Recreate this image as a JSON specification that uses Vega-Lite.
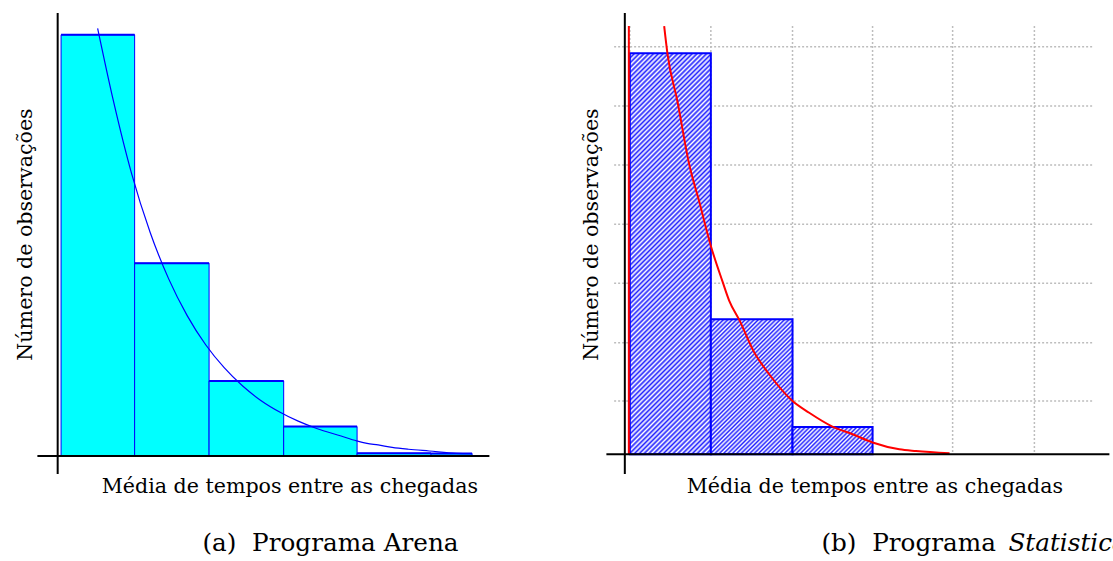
{
  "$schema": "https://vega.github.io/schema/vega-lite/v6.json",
  "background": "white",
  "padding": {"left": 15.4, "top": 12, "right": 0, "bottom": 0},
  "bounds": "flush",
  "spacing": 117,
  "config": {
    "view": {"stroke": null},
    "font": "DejaVu Serif",
    "axis": {"domain": false, "ticks": false, "labels": false, "grid": false, "titleFont": "DejaVu Serif", "titleFontSize": 20.6, "titleFontWeight": "normal", "titleColor": "black"},
    "title": {"font": "DejaVu Serif", "fontSize": 24.7, "fontWeight": "normal", "color": "black"}
  },
  "datasets": {
    "barsA": [
      {"x": 0.046, "x2": 1.04, "y": 156},
      {"x": 1.04, "x2": 2.046, "y": 71.4},
      {"x": 2.046, "x2": 3.054, "y": 27.8},
      {"x": 3.054, "x2": 4.046, "y": 10.9},
      {"x": 4.046, "x2": 5.046, "y": 1.0},
      {"x": 5.046, "x2": 5.6, "y": 0.9}
    ],
    "curveA": [
      {"x": 0.54, "y": 158.4}, {"x": 0.75, "y": 131.9}, {"x": 1.0, "y": 104.5}, {"x": 1.25, "y": 82.8},
      {"x": 1.5, "y": 65.6}, {"x": 1.75, "y": 52.0}, {"x": 2.0, "y": 41.2}, {"x": 2.25, "y": 32.7},
      {"x": 2.5, "y": 25.9}, {"x": 2.75, "y": 20.5}, {"x": 3.0, "y": 16.3}, {"x": 3.25, "y": 12.9},
      {"x": 3.5, "y": 10.2}, {"x": 3.83, "y": 7.4}, {"x": 4.04, "y": 5.6}, {"x": 4.18, "y": 4.7},
      {"x": 4.33, "y": 4.1}, {"x": 4.52, "y": 3.2}, {"x": 4.74, "y": 2.5}, {"x": 5.02, "y": 1.85},
      {"x": 5.39, "y": 1.0}, {"x": 5.6, "y": 0.9}
    ],
    "barsB": [
      {"bin": 1, "x": 0, "x2": 0.996, "y": 44.07},
      {"bin": 2, "x": 0.996, "x2": 2.0, "y": 14.84},
      {"bin": 3, "x": 2.0, "x2": 2.984, "y": 3.0}
    ],
    "gridHB": [{"y": 5.86}, {"y": 12.26}, {"y": 18.79}, {"y": 25.27}, {"y": 31.79}, {"y": 38.27}, {"y": 44.79}],
    "gridVB": [{"x": 0}, {"x": 0.996}, {"x": 2.0}, {"x": 2.984}, {"x": 3.968}, {"x": 4.973}],
    "curveB": [
      {"x": 0.422, "y": 47.07}, {"x": 0.462, "y": 44.07}, {"x": 0.585, "y": 38.8}, {"x": 0.729, "y": 31.9},
      {"x": 0.852, "y": 27.8}, {"x": 0.996, "y": 22.9}, {"x": 1.139, "y": 19.0}, {"x": 1.221, "y": 16.9},
      {"x": 1.344, "y": 14.8}, {"x": 1.529, "y": 11.2}, {"x": 1.713, "y": 8.8}, {"x": 2.0, "y": 5.86},
      {"x": 2.205, "y": 4.57}, {"x": 2.49, "y": 3.05}, {"x": 2.738, "y": 2.2}, {"x": 2.984, "y": 1.3},
      {"x": 3.313, "y": 0.55}, {"x": 3.518, "y": 0.36}, {"x": 3.93, "y": 0.11}
    ],
    "redEdgeB": [{"x": -0.012}],
    "axisXA": [{"x": 0}],
    "axisYA": [{"y": 0}],
    "axisXB": [{"x": -0.0615}],
    "axisYB": [{"y": 0}]
  },
  "title": {"text": "Statistica", "orient": "bottom", "anchor": "start", "frame": "group", "dx": 971, "offset": -25, "fontStyle": "italic"},
  "hconcat": [
    {
      "width": 452,
      "height": 461,
      "title": {"text": "(a)\u00a0 Programa Arena", "orient": "bottom", "anchor": "start", "frame": "group", "dx": 165, "offset": 34},
      "layer": [
        {
          "data": {"name": "barsA"},
          "mark": {"type": "rect", "fill": "#00ffff", "stroke": "#0000ff", "strokeWidth": 1},
          "encoding": {
            "x": {"field": "x", "type": "quantitative", "scale": {"domain": [-0.274, 5.834], "nice": false, "zero": false},
                  "axis": {"title": "Média de tempos entre as chegadas", "titlePadding": 2.5, "titleX": 252}},
            "x2": {"field": "x2"},
            "y": {"field": "y", "type": "quantitative", "scale": {"domain": [-6.67, 164.07], "nice": false, "zero": false},
                  "axis": {"title": "Número de observações", "titlePadding": 2, "titleY": 221}},
            "y2": {"datum": 0}
          }
        },
        {
          "data": {"name": "barsA"},
          "mark": {"type": "rule", "stroke": "#0000ff", "strokeWidth": 2},
          "encoding": {
            "x": {"field": "x", "type": "quantitative"},
            "x2": {"field": "x2"},
            "y": {"field": "y", "type": "quantitative"}
          }
        },
        {
          "data": {"name": "curveA"},
          "mark": {"type": "line", "stroke": "#0000ff", "strokeWidth": 1.2, "interpolate": "monotone"},
          "encoding": {
            "x": {"field": "x", "type": "quantitative"},
            "y": {"field": "y", "type": "quantitative"}
          }
        },
        {
          "data": {"name": "axisXA"},
          "mark": {"type": "rule", "stroke": "black", "strokeWidth": 2},
          "encoding": {"x": {"field": "x", "type": "quantitative"}}
        },
        {
          "data": {"name": "axisYA"},
          "mark": {"type": "rule", "stroke": "black", "strokeWidth": 2},
          "encoding": {"y": {"field": "y", "type": "quantitative"}}
        }
      ]
    },
    {
      "width": 503,
      "height": 461,
      "title": {"text": "(b)\u00a0 Programa", "orient": "bottom", "anchor": "start", "frame": "group", "dx": 215, "offset": 34},
      "layer": [
        {
          "data": {"name": "gridHB"},
          "mark": {"type": "rule", "stroke": "#bdbdbd", "strokeWidth": 1.5, "strokeDash": [2, 2]},
          "encoding": {
            "y": {"field": "y", "type": "quantitative", "scale": {"domain": [-2.165, 48.5], "nice": false, "zero": false},
                  "axis": {"title": "Número de observações", "titlePadding": 4.7, "titleY": 221}},
            "x": {"datum": -0.193, "type": "quantitative", "scale": {"domain": [-0.288, 5.895], "nice": false, "zero": false},
                  "axis": {"title": "Média de tempos entre as chegadas", "titlePadding": 2.5, "titleX": 268}},
            "x2": {"datum": 5.69}
          }
        },
        {
          "data": {"name": "gridVB"},
          "mark": {"type": "rule", "stroke": "#bdbdbd", "strokeWidth": 1.5, "strokeDash": [2, 2]},
          "encoding": {
            "x": {"field": "x", "type": "quantitative"},
            "y": {"datum": 47.07, "type": "quantitative"},
            "y2": {"datum": 0}
          }
        },
        {
          "data": {"name": "barsB"},
          "transform": [{"filter": "datum.bin == 1"}],
          "mark": {"type": "rect", "stroke": "#0000ff", "strokeWidth": 2,
            "fill": {"gradient": "linear", "x1": 0, "y1": 0, "x2": 0.2333, "y2": 1.155, "stops": [
              {"offset":0,"color":"#22f"},{"offset":0.005,"color":"#fff"},{"offset":0.01,"color":"#22f"},{"offset":0.015,"color":"#fff"},{"offset":0.02,"color":"#22f"},{"offset":0.025,"color":"#fff"},{"offset":0.03,"color":"#22f"},{"offset":0.035,"color":"#fff"},{"offset":0.04,"color":"#22f"},{"offset":0.045,"color":"#fff"},
              {"offset":0.05,"color":"#22f"},{"offset":0.055,"color":"#fff"},{"offset":0.06,"color":"#22f"},{"offset":0.065,"color":"#fff"},{"offset":0.07,"color":"#22f"},{"offset":0.075,"color":"#fff"},{"offset":0.08,"color":"#22f"},{"offset":0.085,"color":"#fff"},{"offset":0.09,"color":"#22f"},{"offset":0.095,"color":"#fff"},
              {"offset":0.1,"color":"#22f"},{"offset":0.105,"color":"#fff"},{"offset":0.11,"color":"#22f"},{"offset":0.115,"color":"#fff"},{"offset":0.12,"color":"#22f"},{"offset":0.125,"color":"#fff"},{"offset":0.13,"color":"#22f"},{"offset":0.135,"color":"#fff"},{"offset":0.14,"color":"#22f"},{"offset":0.145,"color":"#fff"},
              {"offset":0.15,"color":"#22f"},{"offset":0.155,"color":"#fff"},{"offset":0.16,"color":"#22f"},{"offset":0.165,"color":"#fff"},{"offset":0.17,"color":"#22f"},{"offset":0.175,"color":"#fff"},{"offset":0.18,"color":"#22f"},{"offset":0.185,"color":"#fff"},{"offset":0.19,"color":"#22f"},{"offset":0.195,"color":"#fff"},
              {"offset":0.2,"color":"#22f"},{"offset":0.205,"color":"#fff"},{"offset":0.21,"color":"#22f"},{"offset":0.215,"color":"#fff"},{"offset":0.22,"color":"#22f"},{"offset":0.225,"color":"#fff"},{"offset":0.23,"color":"#22f"},{"offset":0.235,"color":"#fff"},{"offset":0.24,"color":"#22f"},{"offset":0.245,"color":"#fff"},
              {"offset":0.25,"color":"#22f"},{"offset":0.255,"color":"#fff"},{"offset":0.26,"color":"#22f"},{"offset":0.265,"color":"#fff"},{"offset":0.27,"color":"#22f"},{"offset":0.275,"color":"#fff"},{"offset":0.28,"color":"#22f"},{"offset":0.285,"color":"#fff"},{"offset":0.29,"color":"#22f"},{"offset":0.295,"color":"#fff"},
              {"offset":0.3,"color":"#22f"},{"offset":0.305,"color":"#fff"},{"offset":0.31,"color":"#22f"},{"offset":0.315,"color":"#fff"},{"offset":0.32,"color":"#22f"},{"offset":0.325,"color":"#fff"},{"offset":0.33,"color":"#22f"},{"offset":0.335,"color":"#fff"},{"offset":0.34,"color":"#22f"},{"offset":0.345,"color":"#fff"},
              {"offset":0.35,"color":"#22f"},{"offset":0.355,"color":"#fff"},{"offset":0.36,"color":"#22f"},{"offset":0.365,"color":"#fff"},{"offset":0.37,"color":"#22f"},{"offset":0.375,"color":"#fff"},{"offset":0.38,"color":"#22f"},{"offset":0.385,"color":"#fff"},{"offset":0.39,"color":"#22f"},{"offset":0.395,"color":"#fff"},
              {"offset":0.4,"color":"#22f"},{"offset":0.405,"color":"#fff"},{"offset":0.41,"color":"#22f"},{"offset":0.415,"color":"#fff"},{"offset":0.42,"color":"#22f"},{"offset":0.425,"color":"#fff"},{"offset":0.43,"color":"#22f"},{"offset":0.435,"color":"#fff"},{"offset":0.44,"color":"#22f"},{"offset":0.445,"color":"#fff"},
              {"offset":0.45,"color":"#22f"},{"offset":0.455,"color":"#fff"},{"offset":0.46,"color":"#22f"},{"offset":0.465,"color":"#fff"},{"offset":0.47,"color":"#22f"},{"offset":0.475,"color":"#fff"},{"offset":0.48,"color":"#22f"},{"offset":0.485,"color":"#fff"},{"offset":0.49,"color":"#22f"},{"offset":0.495,"color":"#fff"},
              {"offset":0.5,"color":"#22f"},{"offset":0.505,"color":"#fff"},{"offset":0.51,"color":"#22f"},{"offset":0.515,"color":"#fff"},{"offset":0.52,"color":"#22f"},{"offset":0.525,"color":"#fff"},{"offset":0.53,"color":"#22f"},{"offset":0.535,"color":"#fff"},{"offset":0.54,"color":"#22f"},{"offset":0.545,"color":"#fff"},
              {"offset":0.55,"color":"#22f"},{"offset":0.555,"color":"#fff"},{"offset":0.56,"color":"#22f"},{"offset":0.565,"color":"#fff"},{"offset":0.57,"color":"#22f"},{"offset":0.575,"color":"#fff"},{"offset":0.58,"color":"#22f"},{"offset":0.585,"color":"#fff"},{"offset":0.59,"color":"#22f"},{"offset":0.595,"color":"#fff"},
              {"offset":0.6,"color":"#22f"},{"offset":0.605,"color":"#fff"},{"offset":0.61,"color":"#22f"},{"offset":0.615,"color":"#fff"},{"offset":0.62,"color":"#22f"},{"offset":0.625,"color":"#fff"},{"offset":0.63,"color":"#22f"},{"offset":0.635,"color":"#fff"},{"offset":0.64,"color":"#22f"},{"offset":0.645,"color":"#fff"},
              {"offset":0.65,"color":"#22f"},{"offset":0.655,"color":"#fff"},{"offset":0.66,"color":"#22f"},{"offset":0.665,"color":"#fff"},{"offset":0.67,"color":"#22f"},{"offset":0.675,"color":"#fff"},{"offset":0.68,"color":"#22f"},{"offset":0.685,"color":"#fff"},{"offset":0.69,"color":"#22f"},{"offset":0.695,"color":"#fff"},
              {"offset":0.7,"color":"#22f"},{"offset":0.705,"color":"#fff"},{"offset":0.71,"color":"#22f"},{"offset":0.715,"color":"#fff"},{"offset":0.72,"color":"#22f"},{"offset":0.725,"color":"#fff"},{"offset":0.73,"color":"#22f"},{"offset":0.735,"color":"#fff"},{"offset":0.74,"color":"#22f"},{"offset":0.745,"color":"#fff"},
              {"offset":0.75,"color":"#22f"},{"offset":0.755,"color":"#fff"},{"offset":0.76,"color":"#22f"},{"offset":0.765,"color":"#fff"},{"offset":0.77,"color":"#22f"},{"offset":0.775,"color":"#fff"},{"offset":0.78,"color":"#22f"},{"offset":0.785,"color":"#fff"},{"offset":0.79,"color":"#22f"},{"offset":0.795,"color":"#fff"},
              {"offset":0.8,"color":"#22f"},{"offset":0.805,"color":"#fff"},{"offset":0.81,"color":"#22f"},{"offset":0.815,"color":"#fff"},{"offset":0.82,"color":"#22f"},{"offset":0.825,"color":"#fff"},{"offset":0.83,"color":"#22f"},{"offset":0.835,"color":"#fff"},{"offset":0.84,"color":"#22f"},{"offset":0.845,"color":"#fff"},
              {"offset":0.85,"color":"#22f"},{"offset":0.855,"color":"#fff"},{"offset":0.86,"color":"#22f"},{"offset":0.865,"color":"#fff"},{"offset":0.87,"color":"#22f"},{"offset":0.875,"color":"#fff"},{"offset":0.88,"color":"#22f"},{"offset":0.885,"color":"#fff"},{"offset":0.89,"color":"#22f"},{"offset":0.895,"color":"#fff"},
              {"offset":0.9,"color":"#22f"},{"offset":0.905,"color":"#fff"},{"offset":0.91,"color":"#22f"},{"offset":0.915,"color":"#fff"},{"offset":0.92,"color":"#22f"},{"offset":0.925,"color":"#fff"},{"offset":0.93,"color":"#22f"},{"offset":0.935,"color":"#fff"},{"offset":0.94,"color":"#22f"},{"offset":0.945,"color":"#fff"},
              {"offset":0.95,"color":"#22f"},{"offset":0.955,"color":"#fff"},{"offset":0.96,"color":"#22f"},{"offset":0.965,"color":"#fff"},{"offset":0.97,"color":"#22f"},{"offset":0.975,"color":"#fff"},{"offset":0.98,"color":"#22f"},{"offset":0.985,"color":"#fff"},{"offset":0.99,"color":"#22f"},{"offset":0.995,"color":"#fff"},
              {"offset":1,"color":"#22f"}
            ]}},
          "encoding": {
            "x": {"field": "x", "type": "quantitative"},
            "x2": {"field": "x2"},
            "y": {"field": "y", "type": "quantitative"},
            "y2": {"datum": 0}
          }
        },
        {
          "data": {"name": "barsB"},
          "transform": [{"filter": "datum.bin == 2"}],
          "mark": {"type": "rect", "stroke": "#0000ff", "strokeWidth": 2,
            "fill": {"gradient": "linear", "x1": 0, "y1": 0, "x2": 0.706, "y2": 1.1765, "stops": [
              {"offset":0,"color":"#22f"},{"offset":0.01,"color":"#fff"},{"offset":0.02,"color":"#22f"},{"offset":0.03,"color":"#fff"},{"offset":0.04,"color":"#22f"},{"offset":0.05,"color":"#fff"},{"offset":0.06,"color":"#22f"},{"offset":0.07,"color":"#fff"},{"offset":0.08,"color":"#22f"},{"offset":0.09,"color":"#fff"},
              {"offset":0.1,"color":"#22f"},{"offset":0.11,"color":"#fff"},{"offset":0.12,"color":"#22f"},{"offset":0.13,"color":"#fff"},{"offset":0.14,"color":"#22f"},{"offset":0.15,"color":"#fff"},{"offset":0.16,"color":"#22f"},{"offset":0.17,"color":"#fff"},{"offset":0.18,"color":"#22f"},{"offset":0.19,"color":"#fff"},
              {"offset":0.2,"color":"#22f"},{"offset":0.21,"color":"#fff"},{"offset":0.22,"color":"#22f"},{"offset":0.23,"color":"#fff"},{"offset":0.24,"color":"#22f"},{"offset":0.25,"color":"#fff"},{"offset":0.26,"color":"#22f"},{"offset":0.27,"color":"#fff"},{"offset":0.28,"color":"#22f"},{"offset":0.29,"color":"#fff"},
              {"offset":0.3,"color":"#22f"},{"offset":0.31,"color":"#fff"},{"offset":0.32,"color":"#22f"},{"offset":0.33,"color":"#fff"},{"offset":0.34,"color":"#22f"},{"offset":0.35,"color":"#fff"},{"offset":0.36,"color":"#22f"},{"offset":0.37,"color":"#fff"},{"offset":0.38,"color":"#22f"},{"offset":0.39,"color":"#fff"},
              {"offset":0.4,"color":"#22f"},{"offset":0.41,"color":"#fff"},{"offset":0.42,"color":"#22f"},{"offset":0.43,"color":"#fff"},{"offset":0.44,"color":"#22f"},{"offset":0.45,"color":"#fff"},{"offset":0.46,"color":"#22f"},{"offset":0.47,"color":"#fff"},{"offset":0.48,"color":"#22f"},{"offset":0.49,"color":"#fff"},
              {"offset":0.5,"color":"#22f"},{"offset":0.51,"color":"#fff"},{"offset":0.52,"color":"#22f"},{"offset":0.53,"color":"#fff"},{"offset":0.54,"color":"#22f"},{"offset":0.55,"color":"#fff"},{"offset":0.56,"color":"#22f"},{"offset":0.57,"color":"#fff"},{"offset":0.58,"color":"#22f"},{"offset":0.59,"color":"#fff"},
              {"offset":0.6,"color":"#22f"},{"offset":0.61,"color":"#fff"},{"offset":0.62,"color":"#22f"},{"offset":0.63,"color":"#fff"},{"offset":0.64,"color":"#22f"},{"offset":0.65,"color":"#fff"},{"offset":0.66,"color":"#22f"},{"offset":0.67,"color":"#fff"},{"offset":0.68,"color":"#22f"},{"offset":0.69,"color":"#fff"},
              {"offset":0.7,"color":"#22f"},{"offset":0.71,"color":"#fff"},{"offset":0.72,"color":"#22f"},{"offset":0.73,"color":"#fff"},{"offset":0.74,"color":"#22f"},{"offset":0.75,"color":"#fff"},{"offset":0.76,"color":"#22f"},{"offset":0.77,"color":"#fff"},{"offset":0.78,"color":"#22f"},{"offset":0.79,"color":"#fff"},
              {"offset":0.8,"color":"#22f"},{"offset":0.81,"color":"#fff"},{"offset":0.82,"color":"#22f"},{"offset":0.83,"color":"#fff"},{"offset":0.84,"color":"#22f"},{"offset":0.85,"color":"#fff"},{"offset":0.86,"color":"#22f"},{"offset":0.87,"color":"#fff"},{"offset":0.88,"color":"#22f"},{"offset":0.89,"color":"#fff"},
              {"offset":0.9,"color":"#22f"},{"offset":0.91,"color":"#fff"},{"offset":0.92,"color":"#22f"},{"offset":0.93,"color":"#fff"},{"offset":0.94,"color":"#22f"},{"offset":0.95,"color":"#fff"},{"offset":0.96,"color":"#22f"},{"offset":0.97,"color":"#fff"},{"offset":0.98,"color":"#22f"},{"offset":0.99,"color":"#fff"},
              {"offset":1,"color":"#22f"}
            ]}},
          "encoding": {
            "x": {"field": "x", "type": "quantitative"},
            "x2": {"field": "x2"},
            "y": {"field": "y", "type": "quantitative"},
            "y2": {"datum": 0}
          }
        },
        {
          "data": {"name": "barsB"},
          "transform": [{"filter": "datum.bin == 3"}],
          "mark": {"type": "rect", "stroke": "#0000ff", "strokeWidth": 2,
            "fill": {"gradient": "linear", "x1": 0, "y1": 0, "x2": 1.2014, "y2": 0.41, "stops": [
              {"offset":0,"color":"#22f"},{"offset":0.02,"color":"#fff"},{"offset":0.04,"color":"#22f"},{"offset":0.06,"color":"#fff"},{"offset":0.08,"color":"#22f"},{"offset":0.1,"color":"#fff"},{"offset":0.12,"color":"#22f"},{"offset":0.14,"color":"#fff"},{"offset":0.16,"color":"#22f"},{"offset":0.18,"color":"#fff"},
              {"offset":0.2,"color":"#22f"},{"offset":0.22,"color":"#fff"},{"offset":0.24,"color":"#22f"},{"offset":0.26,"color":"#fff"},{"offset":0.28,"color":"#22f"},{"offset":0.3,"color":"#fff"},{"offset":0.32,"color":"#22f"},{"offset":0.34,"color":"#fff"},{"offset":0.36,"color":"#22f"},{"offset":0.38,"color":"#fff"},
              {"offset":0.4,"color":"#22f"},{"offset":0.42,"color":"#fff"},{"offset":0.44,"color":"#22f"},{"offset":0.46,"color":"#fff"},{"offset":0.48,"color":"#22f"},{"offset":0.5,"color":"#fff"},{"offset":0.52,"color":"#22f"},{"offset":0.54,"color":"#fff"},{"offset":0.56,"color":"#22f"},{"offset":0.58,"color":"#fff"},
              {"offset":0.6,"color":"#22f"},{"offset":0.62,"color":"#fff"},{"offset":0.64,"color":"#22f"},{"offset":0.66,"color":"#fff"},{"offset":0.68,"color":"#22f"},{"offset":0.7,"color":"#fff"},{"offset":0.72,"color":"#22f"},{"offset":0.74,"color":"#fff"},{"offset":0.76,"color":"#22f"},{"offset":0.78,"color":"#fff"},
              {"offset":0.8,"color":"#22f"},{"offset":0.82,"color":"#fff"},{"offset":0.84,"color":"#22f"},{"offset":0.86,"color":"#fff"},{"offset":0.88,"color":"#22f"},{"offset":0.9,"color":"#fff"},{"offset":0.92,"color":"#22f"},{"offset":0.94,"color":"#fff"},{"offset":0.96,"color":"#22f"},{"offset":0.98,"color":"#fff"},
              {"offset":1,"color":"#22f"}
            ]}},
          "encoding": {
            "x": {"field": "x", "type": "quantitative"},
            "x2": {"field": "x2"},
            "y": {"field": "y", "type": "quantitative"},
            "y2": {"datum": 0}
          }
        },
        {
          "data": {"name": "curveB"},
          "mark": {"type": "line", "stroke": "#ff0000", "strokeWidth": 2, "interpolate": "monotone"},
          "encoding": {
            "x": {"field": "x", "type": "quantitative"},
            "y": {"field": "y", "type": "quantitative"}
          }
        },
        {
          "data": {"name": "redEdgeB"},
          "mark": {"type": "rule", "stroke": "#ff0000", "strokeWidth": 2},
          "encoding": {
            "x": {"field": "x", "type": "quantitative"},
            "y": {"datum": 47.07, "type": "quantitative"},
            "y2": {"datum": 0}
          }
        },
        {
          "data": {"name": "axisXB"},
          "mark": {"type": "rule", "stroke": "black", "strokeWidth": 2},
          "encoding": {"x": {"field": "x", "type": "quantitative"}}
        },
        {
          "data": {"name": "axisYB"},
          "mark": {"type": "rule", "stroke": "black", "strokeWidth": 2},
          "encoding": {"y": {"field": "y", "type": "quantitative"}}
        }
      ]
    }
  ]
}
